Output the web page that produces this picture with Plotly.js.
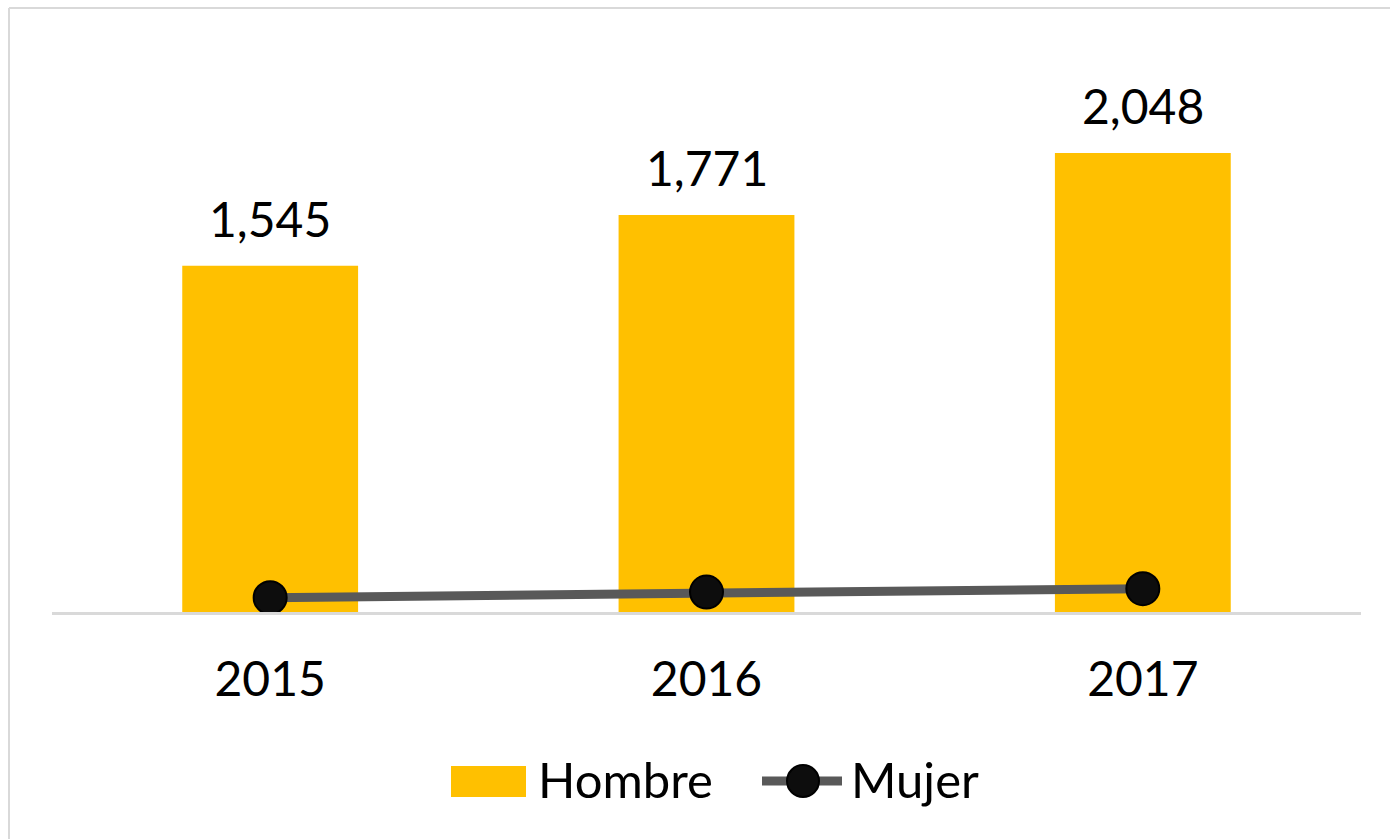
<!DOCTYPE html>
<html>
<head>
<meta charset="utf-8">
<script src="https://cdn.plot.ly/plotly-3.0.1.min.js"></script>
<style>html,body{margin:0;padding:0;background:#fff;}#chart{width:1390px;height:839px;}</style>
</head>
<body>
<div id="chart"></div>
<script>
// Data
var years = ['2015', '2016', '2017'];
var hombre = [1545, 1771, 2048];
var mujer = [64, 89, 104];
var seriesNames = ['Hombre', 'Mujer'];

var W = 1390, H = 839;
var M = {l: 52, r: 29, t: 63, b: 227};
var PW = W - M.l - M.r, PH = H - M.t - M.b;
function px(x) { return (x - M.l) / PW; }
function py(y) { return (H - M.b - y) / PH; }

var FONT = 'Lato, "Open Sans", sans-serif';
var gold = '#FFC000';
var lineGray = '#595959';
var dot = '#0d0d0d';

var traces = [
  {type: 'bar', x: years, y: hombre, name: seriesNames[0], marker: {color: gold}, showlegend: false, hoverinfo: 'skip'},
  {type: 'scatter', mode: 'lines+markers', x: years, y: mujer, name: seriesNames[1],
   line: {color: lineGray, width: 9},
   marker: {color: dot, size: 33, line: {color: '#000', width: 2}}, showlegend: false, hoverinfo: 'skip'}
];

var annotations = years.map(function (yr, i) {
  return {x: i, y: hombre[i], xref: 'x', yref: 'y', text: hombre[i].toLocaleString('en-US'),
    showarrow: false, yanchor: 'bottom', yshift: 17, font: {family: FONT, size: 48, color: '#000'}};
});
// custom legend labels
annotations.push({xref: 'paper', yref: 'paper', x: px(536), y: py(779), xanchor: 'left', yanchor: 'middle',
  text: seriesNames[0], showarrow: false, font: {family: FONT, size: 49, color: '#000'}});
annotations.push({xref: 'paper', yref: 'paper', x: px(849), y: py(779), xanchor: 'left', yanchor: 'middle',
  text: seriesNames[1], showarrow: false, font: {family: FONT, size: 49, color: '#000'}});

var shapes = [
  // outer frame (left and top)
  {type: 'line', xref: 'paper', yref: 'paper', x0: px(9), x1: px(9), y0: py(8), y1: py(839), line: {color: '#d9d9d9', width: 2}},
  {type: 'line', xref: 'paper', yref: 'paper', x0: px(9), x1: px(1390), y0: py(8), y1: py(8), line: {color: '#d9d9d9', width: 2}},
  // legend: Hombre swatch
  {type: 'rect', xref: 'paper', yref: 'paper', x0: px(451), x1: px(526), y0: py(766), y1: py(797), fillcolor: gold, line: {width: 0}},
  // legend: Mujer line + marker
  {type: 'line', xref: 'paper', yref: 'paper', x0: px(762), x1: px(842), y0: py(781), y1: py(781), line: {color: lineGray, width: 9}},
  {type: 'circle', xref: 'paper', yref: 'paper', x0: px(787), x1: px(819), y0: py(765), y1: py(797), fillcolor: dot, line: {color: '#000', width: 2}}
];

var layout = {
  width: W, height: H,
  margin: M,
  paper_bgcolor: '#fff', plot_bgcolor: '#fff',
  bargap: 0.597,
  showlegend: false,
  font: {family: FONT, color: '#000'},
  xaxis: {type: 'category', range: [-0.5, 2.5], autorange: false, showline: true, linecolor: '#d9d9d9', linewidth: 3, showgrid: false, zeroline: false,
    ticks: '', ticklabelstandoff: 23, tickfont: {family: FONT, size: 48, color: '#000'}, fixedrange: true},
  yaxis: {range: [0, 2449], autorange: false, visible: false, showgrid: false, zeroline: false, fixedrange: true},
  annotations: annotations,
  shapes: shapes
};

Plotly.newPlot('chart', traces, layout, {displayModeBar: false, staticPlot: true});
</script>
</body>
</html>
